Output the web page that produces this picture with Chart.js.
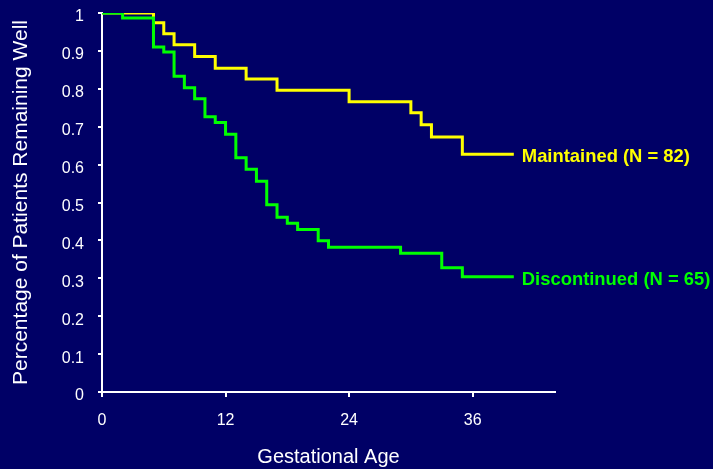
<!DOCTYPE html>
<html>
<head>
<meta charset="utf-8">
<script src="https://cdn.jsdelivr.net/npm/chart.js@4"></script>
<style>
  html, body { margin: 0; padding: 0; background: #000066; }
  #wrap { width: 713px; height: 469px; }
</style>
</head>
<body>
<div id="wrap"><canvas id="chart-km" width="713" height="469"></canvas></div>
<script>
// ─── Datos ───
const maintainedWeeks = [0, 5, 6, 7, 9, 11, 14, 17, 24, 30, 31, 32, 35, 40];
const maintainedWell = [1, 0.974, 0.945, 0.916, 0.885, 0.854, 0.826, 0.796, 0.766, 0.737, 0.705, 0.673, 0.627, 0.627];

const discontinuedWeeks = [0, 2, 5, 6, 7, 8, 9, 10, 11, 12, 13, 14, 15, 16, 17, 18, 19, 21, 22, 29, 33, 35, 40];
const discontinuedWell = [1, 0.987, 0.910, 0.897, 0.833, 0.803, 0.774, 0.726, 0.711, 0.680, 0.618, 0.588, 0.556, 0.494, 0.461, 0.445, 0.429, 0.399, 0.382, 0.366, 0.328, 0.304, 0.304];

const seriesLabels = ['Maintained (N = 82)', 'Discontinued (N = 65)'];
const xTickValues = [0, 12, 24, 36];
const yTickValues = [0, 0.1, 0.2, 0.3, 0.4, 0.5, 0.6, 0.7, 0.8, 0.9, 1];

const FONT = '"Liberation Sans", Arial, sans-serif';

function toPoints(xs, ys) {
    return xs.map((x, i) => ({ x: x, y: ys[i] }));
}

// ─── Etiquetas al final de cada curva ───
const endLabels = {
    id: 'endLabels',
    afterDatasetsDraw(chart) {
        const ctx = chart.ctx;
        const xs = chart.scales.x, ys = chart.scales.y;
        ctx.save();
        ctx.font = 'bold 18.4px ' + FONT;
        ctx.textBaseline = 'middle';
        ctx.textAlign = 'left';
        chart.data.datasets.forEach(ds => {
            const last = ds.data[ds.data.length - 1];
            ctx.fillStyle = ds.borderColor;
            ctx.fillText(ds.label, xs.getPixelForValue(last.x) + 8, ys.getPixelForValue(last.y) + 3);
        });
        ctx.restore();
    }
};

new Chart(document.getElementById('chart-km'), {
    type: 'line',
    data: {
        datasets: [
            {
                label: seriesLabels[1],
                data: toPoints(discontinuedWeeks, discontinuedWell),
                borderColor: '#00ff00',
                borderWidth: 3,
                stepped: true,
                pointRadius: 0,
                fill: false,
            },
            {
                label: seriesLabels[0],
                data: toPoints(maintainedWeeks, maintainedWell),
                borderColor: '#ffff00',
                borderWidth: 3,
                stepped: true,
                pointRadius: 0,
                fill: false,
            }
        ]
    },
    options: {
        responsive: false,
        animation: false,
        layout: { padding: { top: 13, right: 158, left: 0, bottom: 0 } },
        plugins: {
            legend: { display: false },
            tooltip: { enabled: false },
        },
        scales: {
            x: {
                type: 'linear',
                min: 0,
                max: 44,
                afterBuildTicks: s => { s.ticks = xTickValues.map(v => ({ value: v })); },
                afterFit: s => { s.height = 77; s.paddingLeft = 0; s.paddingRight = 0; },
                grid: { drawOnChartArea: false, color: '#ffffff', lineWidth: 2, tickLength: 5 },
                border: { color: '#ffffff', width: 2 },
                ticks: { color: '#ffffff', font: { family: FONT, size: 16 }, padding: 14, maxRotation: 0 },
                title: {
                    display: true,
                    text: 'Gestational Age',
                    color: '#ffffff',
                    font: { family: FONT, size: 20 },
                    padding: { top: 6, bottom: 0 },
                },
            },
            y: {
                min: 0,
                max: 1,
                afterBuildTicks: s => { s.ticks = yTickValues.map(v => ({ value: v })); },
                afterFit: s => { s.width = 102; s.paddingTop = 0; s.paddingBottom = 0; },
                grid: { drawOnChartArea: false, color: '#ffffff', lineWidth: 2, tickLength: 4 },
                border: { color: '#ffffff', width: 2 },
                ticks: {
                    color: '#ffffff',
                    font: { family: FONT, size: 16 },
                    padding: 14,
                    labelOffset: 4,
                    callback: v => String(Math.round(v * 10) / 10),
                },
                title: {
                    display: true,
                    text: 'Percentage of Patients Remaining Well',
                    color: '#ffffff',
                    font: { family: FONT, size: 21 },
                    padding: { top: 9, bottom: 0 },
                },
            }
        }
    },
    plugins: [endLabels]
});
</script>
</body>
</html>
